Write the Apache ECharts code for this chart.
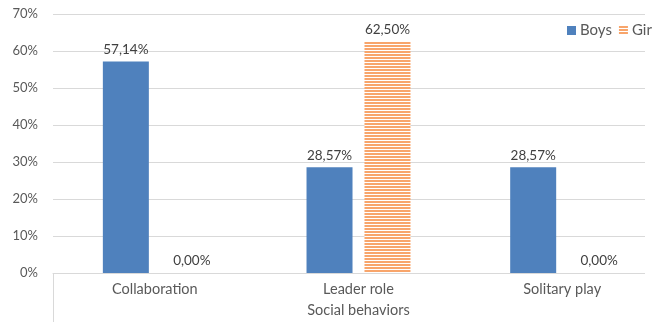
<!DOCTYPE html>
<html><head><meta charset="utf-8">
<script src="https://cdn.jsdelivr.net/npm/echarts@6/dist/echarts.min.js"></script>
<style>html,body{margin:0;padding:0;background:#fff}#c{width:652px;height:322px}</style>
</head><body><div id="c"></div>
<script>
var categories = ['Collaboration', 'Leader role', 'Solitary play'];
var boys = [57.14, 28.57, 28.57];
var girls = [0.00, 62.50, 0.00];
var yTicks = [0, 10, 20, 30, 40, 50, 60, 70];

var pat = document.createElement('canvas');
pat.width = 4; pat.height = 3;
var g = pat.getContext('2d');
g.fillStyle = '#ffffff'; g.fillRect(0, 0, 4, 3);
g.fillStyle = '#F8A56B'; g.fillRect(0, 0, 4, 2);

var font = 'Lato, "Open Sans", sans-serif';
function fmt(v) { return v.toFixed(2).replace('.', ',') + '%'; }

var chart = echarts.init(document.getElementById('c'), null, {renderer: 'canvas'});
chart.setOption({
  animation: false,
  textStyle: {fontFamily: font},
  grid: {left: 53, right: -12, top: 14, bottom: 49, containLabel: false, outerBoundsMode: 'none'},
  graphic: [{
    type: 'rect', z: 1, silent: true,
    shape: {x: 645, y: 0, width: 20, height: 275},
    style: {fill: '#ffffff'}
  }],
  legend: {
    orient: 'horizontal', left: 562, top: 18, width: 300, itemWidth: 9, itemHeight: 9, itemGap: 7,
    icon: 'rect', z: 10,
    textStyle: {fontFamily: font, fontSize: 15, color: '#595959', padding: [0, 0, 0, -1]},
    data: ['Boys', 'Girls']
  },
  xAxis: {
    type: 'category', data: categories,
    axisLine: {lineStyle: {color: '#d9d9d9', width: 1}},
    axisTick: {show: true, length: 49, interval: function (i) { return i === 0; }, lineStyle: {color: '#d9d9d9'}},
    axisLabel: {color: '#595959', fontSize: 14.5, fontFamily: font, margin: 9},
    name: 'Social behaviors', nameLocation: 'middle', nameGap: 30,
    nameTextStyle: {color: '#595959', fontSize: 14.5, fontFamily: font, padding: [0, 0, 0, 0]}
  },
  yAxis: {
    type: 'value', min: yTicks[0], max: yTicks[yTicks.length - 1], interval: 10,
    axisLine: {show: false}, axisTick: {show: false},
    splitLine: {lineStyle: {color: '#d9d9d9'}},
    axisLabel: {color: '#595959', fontSize: 13, fontFamily: font, margin: 15, formatter: '{value}%'}
  },
  series: [
    {
      name: 'Boys', type: 'bar', data: boys,
      barWidth: 46, barGap: '26%',
      itemStyle: {color: '#4F81BD'},
      label: {show: true, position: 'top', distance: 5, color: '#404040', fontSize: 13.5, fontFamily: font,
        formatter: function (p) { return fmt(p.value); }}
    },
    {
      name: 'Girls', type: 'bar',
      data: girls.map(function (v) {
        return v === 0 ? {value: v, label: {offset: [8, 0]}} : {value: v};
      }),
      barWidth: 46,
      itemStyle: {color: {image: pat, repeat: 'repeat'}},
      label: {show: true, position: 'top', distance: 5, color: '#404040', fontSize: 13.5, fontFamily: font,
        formatter: function (p) { return fmt(p.value); }}
    }
  ]
});
</script></body></html>
